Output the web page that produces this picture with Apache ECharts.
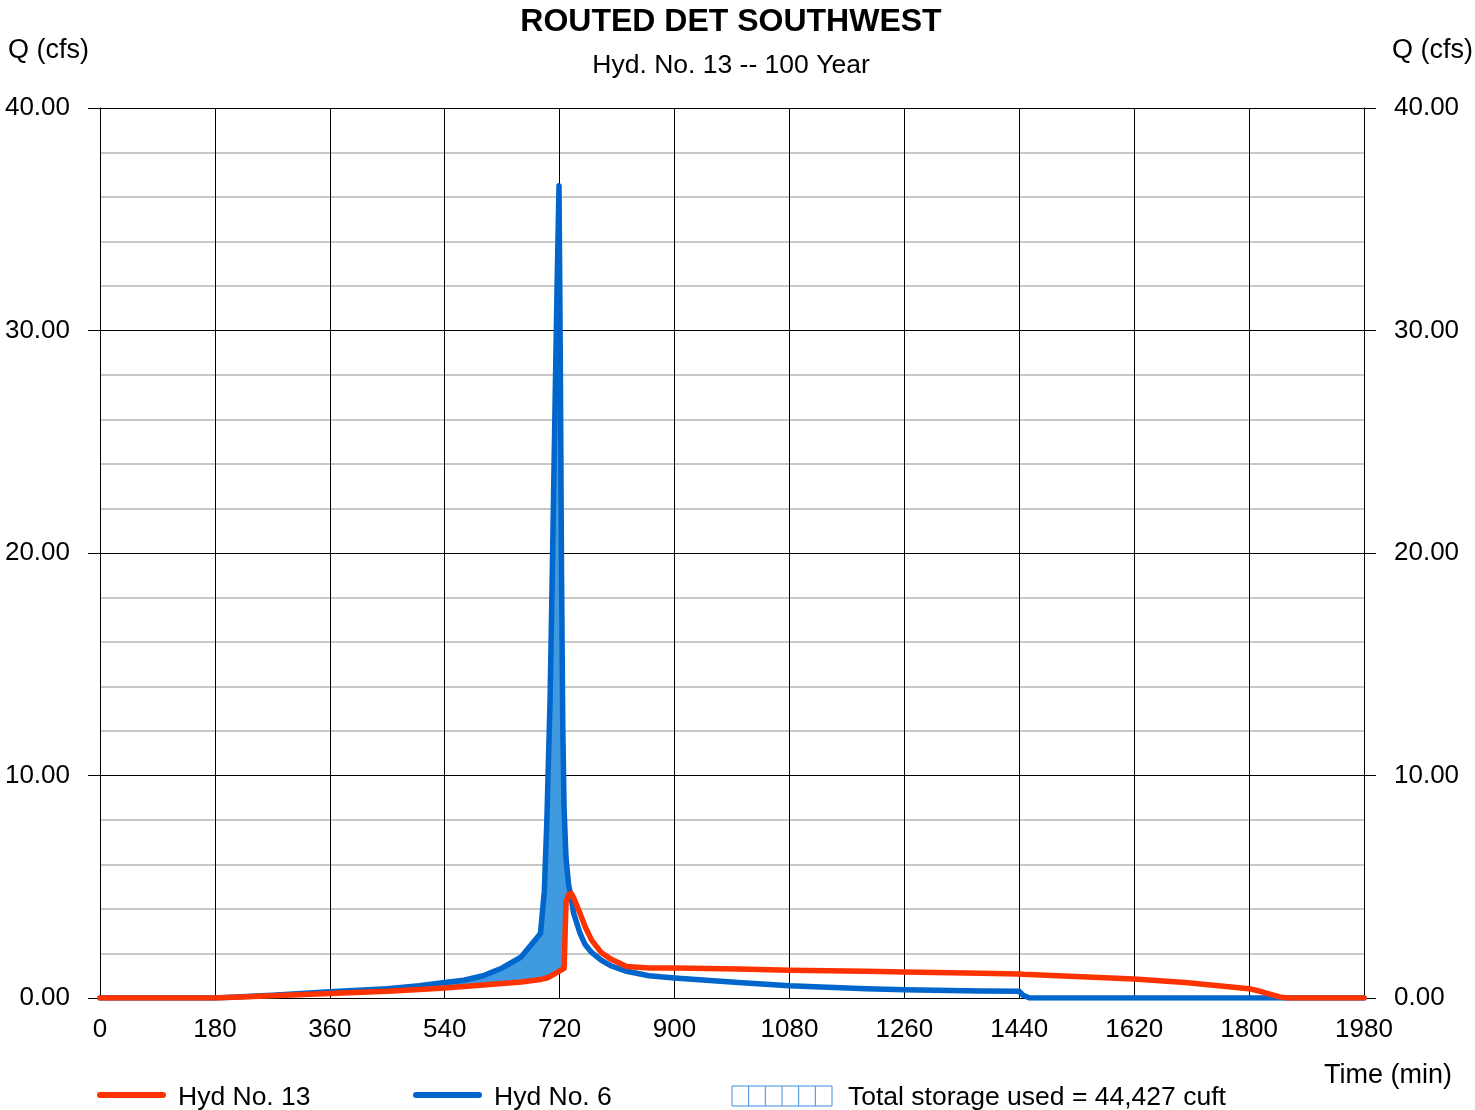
<!DOCTYPE html>
<html>
<head>
<meta charset="utf-8">
<script src="https://cdn.jsdelivr.net/npm/echarts@6/dist/echarts.min.js"></script>
<style>
  html, body { margin: 0; padding: 0; background: #fff; }
  #chart { width: 1475px; height: 1110px; }
</style>
</head>
<body>
<div id="chart"></div>
<script>
// ---- Data ----
const times = [0,180,270,360,450,500,540,570,600,630,660,690,696,700,705,709,713,716,719,721,723,725,727,729,730,734,738,742,752,760,770,785,800,825,860,900,1000,1080,1200,1260,1380,1440,1446,1456,1500,1620,1700,1800,1820,1848,1860,1980];
const hyd6 = [0,0,0.12,0.28,0.42,0.55,0.7,0.8,1.0,1.35,1.85,2.9,4.8,8.0,13.4,20,27,32,36.5,29,19,12,8.5,7.0,6.3,5.1,4.5,3.8,2.9,2.4,2.05,1.7,1.45,1.2,1.0,0.9,0.7,0.55,0.42,0.37,0.32,0.3,0.12,0,0,0,0,0,0,0,0,0];
const hyd13 = [0,0,0.1,0.2,0.3,0.38,0.45,0.52,0.58,0.65,0.72,0.83,0.88,0.9,0.97,1.03,1.1,1.15,1.2,1.24,1.27,1.3,1.33,1.35,4.3,4.65,4.7,4.5,3.8,3.2,2.6,2.05,1.75,1.42,1.35,1.35,1.3,1.25,1.2,1.17,1.11,1.08,1.07,1.06,1.0,0.85,0.7,0.42,0.28,0.05,0,0];
const xTicks = [0,180,360,540,720,900,1080,1260,1440,1620,1800,1980];
const yTicks = [0,10,20,30,40];
const titleText = 'ROUTED DET SOUTHWEST';
const subtitleText = 'Hyd. No. 13 -- 100 Year';
const storageText = 'Total storage used = 44,427 cuft';

const pair = (arr) => times.map((t, i) => [t, arr[i]]);

const FONT = '"Liberation Sans", Arial, sans-serif';
const chart = echarts.init(document.getElementById('chart'));

const G = { left: 100, right: 1364, top: 108, bottom: 998 };

// storage fill: region between inflow (hyd6) and outflow (hyd13) where inflow exceeds outflow
function renderStorage(params, api) {
  if (params.dataIndex !== 0) return null;
  const pts = [];
  for (let i = 0; i < times.length; i++) pts.push(api.coord([times[i], hyd6[i]]));
  for (let i = times.length - 1; i >= 0; i--) pts.push(api.coord([times[i], Math.min(hyd6[i], hyd13[i])]));
  return { type: 'polygon', shape: { points: pts }, style: { fill: '#3f9ae0', stroke: null } };
}

// hatch box for the storage legend
const hatch = [];
const bx0 = 732, bx1 = 832, by0 = 1086, by1 = 1106, nCells = 6;
hatch.push({ type: 'rect', shape: { x: bx0, y: by0, width: bx1 - bx0, height: by1 - by0 },
  style: { fill: '#fff', stroke: '#3d8fe0', lineWidth: 1 } });
for (let k = 1; k < nCells; k++) {
  const x = bx0 + (bx1 - bx0) * k / nCells;
  hatch.push({ type: 'line', shape: { x1: x, y1: by0, x2: x, y2: by1 }, style: { stroke: '#3d8fe0', lineWidth: 1 } });
}

const txt = (text, x, y, align, size, weight) => ({
  type: 'text', x: x, y: y,
  style: { text: text, fill: '#000', font: (weight || 'normal') + ' ' + size + 'px ' + FONT, textAlign: align, textVerticalAlign: 'middle' }
});

const yLabel = { color: '#000', fontSize: 26, fontFamily: FONT, margin: 30, padding: [4, 0, 0, 0],
  formatter: v => yTicks.includes(v) ? v.toFixed(2) : '' };

chart.setOption({
  animation: false,
  backgroundColor: '#fff',
  grid: { left: G.left, right: 1475 - G.right, top: G.top, bottom: 1110 - G.bottom, containLabel: false },
  xAxis: {
    type: 'value', min: 0, max: 1980, interval: 180,
    axisLine: { show: true, onZero: false, lineStyle: { color: '#000', width: 1 } },
    axisTick: { show: false },
    axisLabel: { color: '#000', fontSize: 26, fontFamily: FONT, margin: 19,
      formatter: v => xTicks.includes(v) ? String(v) : '' },
    splitLine: { show: true, lineStyle: { color: '#000', width: 1 } }
  },
  yAxis: [
    {
      type: 'value', min: 0, max: 40, interval: 10, position: 'left',
      axisLine: { show: true, lineStyle: { color: '#000', width: 1 } },
      axisTick: { show: true, inside: false, length: 12, lineStyle: { color: '#000', width: 1 } },
      axisLabel: yLabel,
      splitLine: { show: true, lineStyle: { color: '#000', width: 1 } },
      minorTick: { show: false, splitNumber: 5 },
      minorSplitLine: { show: true, lineStyle: { color: '#c8c8c8', width: 2 } }
    },
    {
      type: 'value', min: 0, max: 40, interval: 10, position: 'right',
      axisLine: { show: true, lineStyle: { color: '#000', width: 1 } },
      axisTick: { show: true, inside: false, length: 12, lineStyle: { color: '#000', width: 1 } },
      axisLabel: yLabel,
      splitLine: { show: false }
    }
  ],
  series: [
    { name: 'storage', type: 'custom', data: times.map((t, i) => [t, hyd6[i]]), renderItem: renderStorage,
      silent: true, z: 2, clip: true },
    { name: 'Hyd No. 6', type: 'line', data: pair(hyd6), symbol: 'none',
      lineStyle: { color: '#0066cc', width: 5.5, join: 'round', cap: 'round' }, z: 3 },
    { name: 'Hyd No. 13', type: 'line', data: pair(hyd13), symbol: 'none',
      lineStyle: { color: '#ff3300', width: 5.5, join: 'round', cap: 'round' }, z: 4 }
  ],
  graphic: [
    txt(titleText, 731, 22, 'center', 32, 'bold'),
    txt(subtitleText, 731, 66, 'center', 26.5),
    txt('Q (cfs)', 8, 51, 'left', 27),
    txt('Q (cfs)', 1473, 51, 'right', 27),
    txt('Time (min)', 1452, 1076, 'right', 27),
    { type: 'line', shape: { x1: 100, y1: 1095, x2: 163, y2: 1095 }, style: { stroke: '#ff3300', lineWidth: 6, lineCap: 'round' } },
    txt('Hyd No. 13', 178, 1098, 'left', 26.5),
    { type: 'line', shape: { x1: 416, y1: 1095, x2: 479, y2: 1095 }, style: { stroke: '#0066cc', lineWidth: 6, lineCap: 'round' } },
    txt('Hyd No. 6', 494, 1098, 'left', 26.5),
    ...hatch,
    txt(storageText, 848, 1098, 'left', 26.5)
  ]
});
</script>
</body>
</html>
